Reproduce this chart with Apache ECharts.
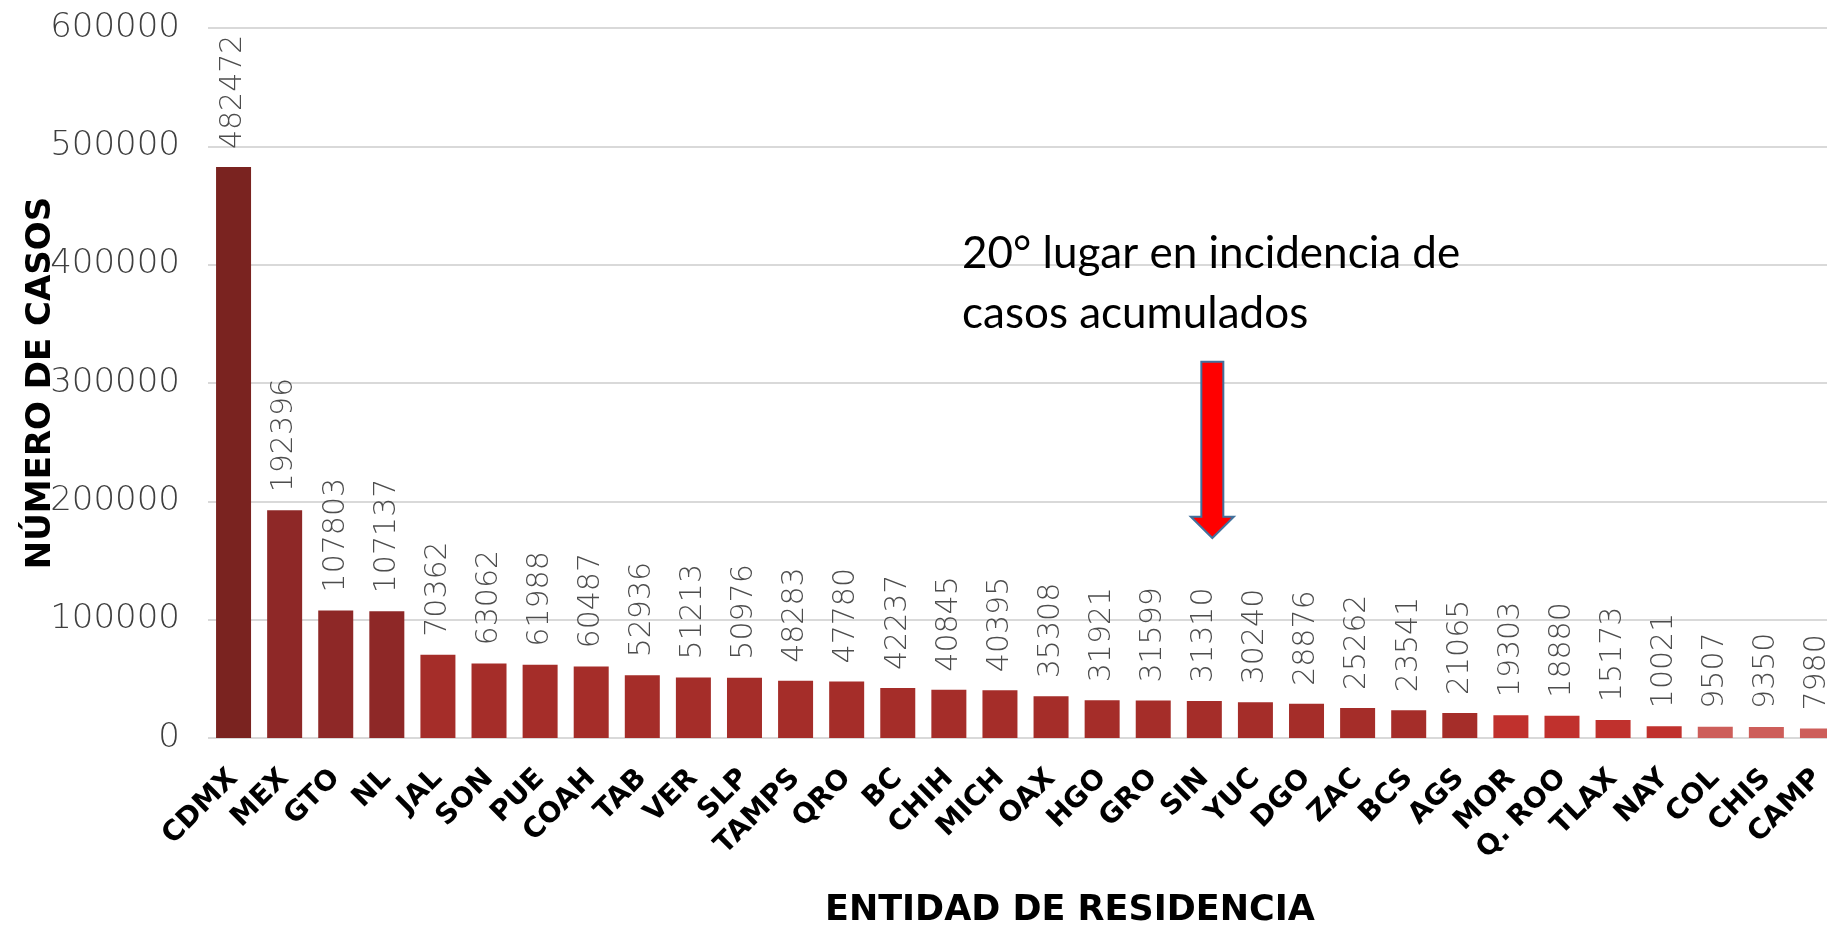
<!DOCTYPE html>
<html>
<head>
<meta charset="utf-8">
<script src="https://cdn.jsdelivr.net/npm/echarts@6/dist/echarts.min.js"></script>
<style>
html,body{margin:0;padding:0;background:#fff;overflow:hidden;width:1827px;height:929px;}
#c{width:1843px;height:929px;}
</style>
</head>
<body>
<div id="c"></div>
<script>
const categories = ['CDMX','MEX','GTO','NL','JAL','SON','PUE','COAH','TAB','VER','SLP','TAMPS','QRO','BC','CHIH','MICH','OAX','HGO','GRO','SIN','YUC','DGO','ZAC','BCS','AGS','MOR','Q. ROO','TLAX','NAY','COL','CHIS','CAMP'];
const casos = [482472,192396,107803,107137,70362,63062,61988,60487,52936,51213,50976,48283,47780,42237,40845,40395,35308,31921,31599,31310,30240,28876,25262,23541,21065,19303,18880,15173,10021,9507,9350,7980];
const yTicks = [0,100000,200000,300000,400000,500000,600000];
const xAxisTitle = 'ENTIDAD DE RESIDENCIA';
const yAxisTitle = 'NÚMERO DE CASOS';
const noteLines = ['20° lugar en incidencia de','casos acumulados'];
const highlighted = 'SIN';
const arrowTopValue = 318000, arrowHeadValue = 187000, arrowTipValue = 169000;

const chart = echarts.init(document.getElementById('c'), null, {renderer:'canvas'});
const thin = 'DejaVu Sans';
const option = {
  animation:false,
  backgroundColor:'#ffffff',
  grid:{left:208, right:0, top:28, bottom:191, containLabel:false, outerBoundsMode:'none'},
  visualMap:{
    show:false, type:'piecewise', dimension:1, seriesIndex:0,
    pieces:[
      {gte:300000, color:'#7A2320'},
      {gte:100000, lt:300000, color:'#8E2827'},
      {gte:20000, lt:100000, color:'#A52D29'},
      {gte:10000, lt:20000, color:'#C0312D'},
      {lt:10000, color:'#CD5E5A'}
    ]
  },
  xAxis:{
    type:'category', data:categories,
    axisLine:{show:false}, axisTick:{show:false},
    axisLabel:{rotate:45, margin:36, interval:0, color:'#000', fontFamily:'DejaVu Sans', fontWeight:'bold', fontSize:28}
  },
  yAxis:{
    type:'value', min:yTicks[0], max:yTicks[yTicks.length-1], interval:yTicks[1]-yTicks[0],
    name:yAxisTitle, nameLocation:'middle', nameGap:150, nameMoveOverlap:false,
    nameTextStyle:{color:'#000', fontFamily:'DejaVu Sans', fontWeight:'bold', fontSize:34},
    axisLine:{show:false}, axisTick:{show:false},
    axisLabel:{margin:28, color:'#3f3f3f', fontFamily:thin, fontWeight:200, fontSize:34,
      formatter:function(v){return String(v);}},
    splitLine:{lineStyle:{color:'#d9d9d9', width:2}}
  },
  series:[{
    type:'bar', data:casos, barWidth:35,
    label:{show:true, position:'top', rotate:90, align:'left', verticalAlign:'middle', distance:18,
      color:'#4d4d4d', fontFamily:thin, fontWeight:200, fontSize:30}
  }]
};
chart.setOption(option);

const xc = chart.convertToPixel({xAxisIndex:0}, highlighted) + 8;
const yTop = chart.convertToPixel({yAxisIndex:0}, arrowTopValue);
const yHead = chart.convertToPixel({yAxisIndex:0}, arrowHeadValue);
const yTip = chart.convertToPixel({yAxisIndex:0}, arrowTipValue);
const sw = 11, hw = 21.5;
chart.setOption({graphic:[
  {type:'text', left:825, top:893, style:{text:xAxisTitle, fill:'#000', font:'bold 35px "DejaVu Sans"'}},
  {type:'text', left:962, top:224, style:{text:noteLines.join('\n'), fill:'#000', font:'44px Lato', lineHeight:60}},
  {type:'polygon', shape:{points:[[xc-sw,yTop],[xc+sw,yTop],[xc+sw,yHead],[xc+hw,yHead],[xc,yTip],[xc-hw,yHead],[xc-sw,yHead]]},
   style:{fill:'#FF0000', stroke:'#41719C', lineWidth:2}}
]});
</script>
</body>
</html>
